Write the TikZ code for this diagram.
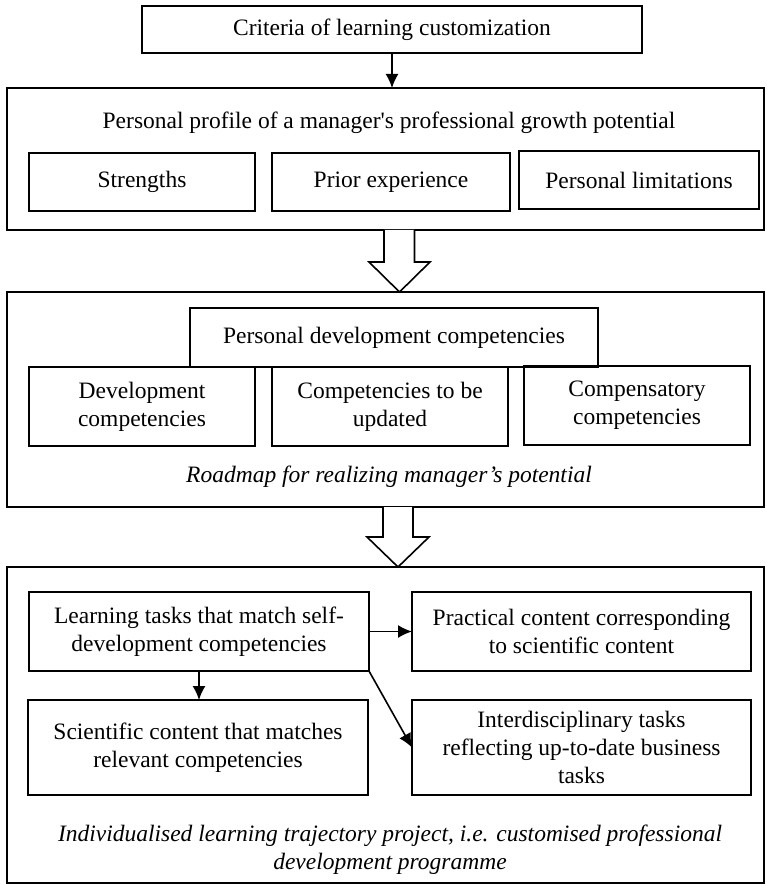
\documentclass[tikz,border=0pt]{standalone}
\usepackage{fontspec}
\setmainfont{Liberation Serif}
\usetikzlibrary{arrows.meta}

\newcommand\diagfont{\fontsize{23.5}{28}\selectfont}

\begin{document}
\begin{tikzpicture}[x=1pt, y=-1pt, font=\diagfont,
    box/.style={draw, line width=1.6pt, inner sep=0pt, outer sep=0pt, align=center},
    frame/.style={draw, line width=1.6pt, minimum width=757pt, inner sep=0pt, outer sep=0pt},
    hollow/.style={draw, fill=white, line width=1.6pt, line join=miter},
    link/.style={line width=1.6pt, -{Latex[length=14pt, width=13pt]}}]
    \useasboundingbox (0,0) rectangle (766,885);

    % criteria and profile
    \node[box, minimum width=500pt, minimum height=47pt] (crit) at (392,29.5) {Criteria of learning customization};
    \node[frame, minimum height=142pt] (profile) at (385.5,159) {};
    \node (proftitle) at (389,123) {Personal profile of a manager\textquotesingle s professional growth potential};
    \node[box, minimum width=226pt, minimum height=58pt] (strength) at (142,182) {Strengths};
    \node[box, minimum width=238pt, minimum height=58pt] (prior)    at (391,182) {Prior experience};
    \node[box, minimum width=240pt, minimum height=58pt] (limits)   at (639,180) {Personal limitations};

    % roadmap
    \node[frame, minimum height=215pt] (roadmap) at (385.5,399.5) {};
    \node[box, minimum width=408pt, minimum height=59pt] (pdc)      at (394,337.5) {Personal development competencies};
    \node[box, minimum width=226pt, minimum height=79pt] (devcomp)  at (142,406.5) {Development\\competencies};
    \node[box, minimum width=236pt, minimum height=79pt] (updcomp)  at (390,406.5) {Competencies to be\\updated};
    \node[box, minimum width=226pt, minimum height=79pt] (compcomp) at (637,405.5) {Compensatory\\competencies};
    \node[font=\diagfont\itshape] (roadtitle) at (389,477) {Roadmap for realizing manager's potential};

    % learning trajectory project
    \node[frame, minimum height=316pt] (project) at (385.5,725) {};
    \node[box, minimum width=340pt, minimum height=79pt] (tasks)     at (199,631.5)   {Learning tasks that match self-\\development competencies};
    \node[box, minimum width=339pt, minimum height=79pt] (practice)  at (581.5,631.5) {Practical content corresponding\\to scientific content};
    \node[box, minimum width=340pt, minimum height=95pt] (science)   at (198,747.5)   {Scientific content that matches\\relevant competencies};
    \node[box, minimum width=339pt, minimum height=95pt] (interdisc) at (581.5,747.5) {Interdisciplinary tasks\\reflecting up-to-date business\\tasks};
    \node[font=\diagfont\itshape, align=center] (projtitle) at (390,850) {Individualised learning trajectory project, i.e. customised professional\\development programme};

    \draw[link] (crit.south) -- (crit.south |- profile.north);
    \draw[link] (tasks) -- (practice);
    \draw[link] (tasks.south) -- (tasks.south |- science.north);
    \draw[link] (tasks.south east) -- (interdisc.west);

    % hollow arrows between the frames
    \coordinate (gapA) at ([xshift=14pt]profile.south);
    \draw[hollow] ([xshift=-15.5pt]gapA) -- ++(0,32) -- ++(-15,0) -- (gapA |- roadmap.north)
        -- ++(30.5,-30) -- ++(-15.5,0) -- ++(0,-32);
    \coordinate (gapB) at ([xshift=12.5pt]roadmap.south);
    \draw[hollow] ([xshift=-15pt]gapB) -- ++(0,30) -- ++(-16,0) -- (gapB |- project.north)
        -- ++(31,-30) -- ++(-16,0) -- ++(0,-30);
\end{tikzpicture}
\end{document}
